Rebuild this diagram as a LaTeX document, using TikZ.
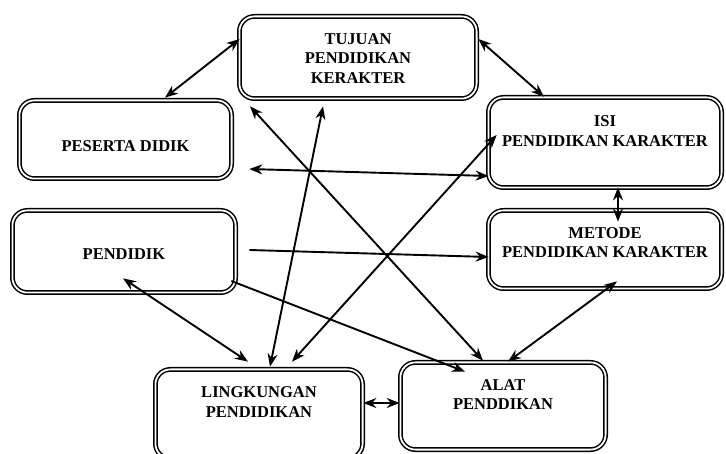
\documentclass[tikz,border=0pt]{standalone}
\usepackage{fontspec}
\setmainfont{Liberation Serif}
\usetikzlibrary{calc,arrows.meta}
\tikzset{
  box/.style={draw=black, double=white, line width=1.5pt, double distance=1.8pt,
    rounded corners=15pt, inner sep=0pt},
  lab/.style={font=\fontsize{16.5}{19.8}\selectfont\bfseries, align=center, inner sep=0pt},
  link/.style={draw=black, line width=1.9pt, -{Stealth[length=13pt,width=10pt]}},
  both/.style={draw=black, line width=1.9pt,
    {Stealth[length=13pt,width=10pt]}-{Stealth[length=13pt,width=10pt]}},
}

\begin{document}
\begin{tikzpicture}[x=1pt,y=-1pt]
  \useasboundingbox (0,0) rectangle (726,454);
  \clip (0,0) rectangle (726,454);

  % boxes (outer size minus the double line)
  \node[box, minimum width=237.2pt, minimum height=82.2pt] (tujuan) at (358,57.5) {};
  \node[box, minimum width=212.2pt, minimum height=78.2pt] (peserta) at (125.5,139.5) {};
  \node[box, minimum width=233.2pt, minimum height=90.2pt] (isi) at (605,142.5) {};
  \node[box, minimum width=233.2pt, minimum height=78.2pt] (metode) at (605,249.5) {};
  \node[box, minimum width=223.2pt, minimum height=82.2pt] (pendidik) at (124,251.5) {};
  \node[box, minimum width=207.2pt, minimum height=89.2pt] (lingkungan) at (259,414) {};
  \node[box, minimum width=205.2pt, minimum height=87.2pt] (alat) at (503,406) {};

  % texts
  \node[lab] (tujuanT) at (358,58.5) {TUJUAN\\PENDIDIKAN\\KERAKTER};
  \node[lab] (pesertaT) at (125.5,146) {PESERTA DIDIK};
  \node[lab] (isiT) at (605,131) {ISI\\PENDIDIKAN KARAKTER};
  \node[lab] (metodeT) at (605,242.5) {METODE\\PENDIDIKAN KARAKTER};
  \node[lab] (pendidikT) at (124,254) {PENDIDIK};
  \node[lab] (lingkunganT) at (259,402) {LINGKUNGAN\\PENDIDIKAN};
  \node[lab] (alatT) at (503,394.5) {ALAT\\PENDDIKAN};

  % connectors
  \draw[both] ($(peserta.north)+(39.5,-2)$) -- ($(tujuan.west)+(1,-18.5)$);
  \draw[both] ($(tujuan.east)+(1,-18.5)$) -- ($(isi.north)+(-61,0)$);
  \draw[both] ($(peserta.east)+(17,29.5)$) -- ($(isi.west)+(1,33.5)$);
  \draw[link] ($(pendidik.east)+(13,-1.5)$) -- ($(metode.west)+(1,7.5)$);
  \draw[both] ($(isi.south)+(13,-1)$) -- ($(metode.north)+(13,12)$);
  \draw[both] ($(metode.south)+(12,-8)$) -- ($(alat.north)+(5,0)$);
  \draw[both] ($(pendidik.south)+(-1,-15)$) -- ($(lingkungan.north)+(-11,-7)$);
  \draw[both] ($(lingkungan.east)+(0,-11)$) -- ($(alat.west)+(0,-3)$);
  \draw[link] ($(pendidik.east)+(-5,29.5)$) -- ($(alat.north)+(-38,10)$);
  \draw[both] ($(tujuan.south)+(-108,7)$) -- ($(alat.north)+(-20,-1)$);
  \draw[both] ($(tujuan.south)+(-35,7)$) -- ($(lingkungan.north)+(11,-2)$);
  \draw[both] ($(isi.west)+(9,-7.5)$) -- ($(lingkungan.north)+(33,-7)$);
\end{tikzpicture}
\end{document}
